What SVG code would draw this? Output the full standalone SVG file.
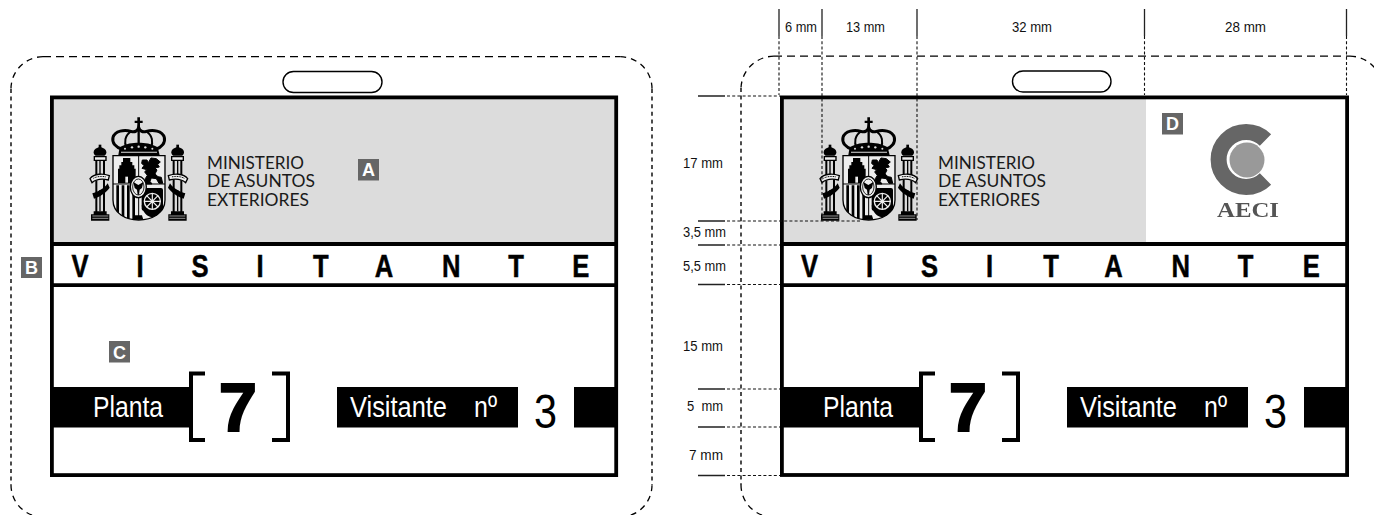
<svg xmlns="http://www.w3.org/2000/svg" xmlns:xlink="http://www.w3.org/1999/xlink" width="1374" height="515" viewBox="0 0 1374 515">
<style>
text{font-family:"Liberation Sans",Arial,sans-serif}
.bg{fill:#fff}
.frame{fill:none;stroke:#000;stroke-width:3.8}
.grey{fill:#dcdcdc}
.bar{fill:#000}
.slot{fill:#fff;stroke:#000;stroke-width:1.4}
.dh{fill:none;stroke:#000;stroke-width:1.3;stroke-dasharray:8 5}
.dv{fill:none;stroke:#000;stroke-width:1.4;stroke-dasharray:4 3.6}
.da{fill:none;stroke:#000;stroke-width:1.3;stroke-dasharray:6 5}
.min{font-family:Lato,"Open Sans",sans-serif;font-size:17.5px;fill:#1a1a1a}
.vis{font-weight:bold;font-size:32px;fill:#000;stroke:#000;stroke-width:.5;text-anchor:middle}
.wht{font-size:30px;fill:#fff}
.seven{font-weight:bold;font-size:68px;text-anchor:middle;fill:#000;stroke:#000;stroke-width:2.2}
.three{font-size:49px;fill:#000}
.brk{fill:none;stroke:#000;stroke-width:4}
.badge{fill:#666}
.bt{font-weight:bold;font-size:18px;fill:#fff;text-anchor:middle}
.dim{font-size:15px;fill:#111}
.tick{stroke:#222;stroke-width:1.3;fill:none}
.dot{stroke:#111;stroke-width:1.1;stroke-dasharray:3 2.2;fill:none}
.k{fill:#000}
.ks{fill:none;stroke:#000}
</style>
<defs>
<clipPath id="sh"><path d="M84 137H240V270C240 310 200 330 161 330C122 330 84 310 84 270Z"/></clipPath>
<g id="column">
<path class="k" d="M45 112c10 0 19 7 19 15c0 5-3 9-6 10H32c-3-1-6-5-6-10c0-8 9-15 19-15Z"/>
<rect class="k" x="41" y="104" width="8" height="10"/>
<path fill="#eee" stroke="#000" stroke-width="4" d="M28 140H63V151H28Z"/>
<path class="ks" stroke-width="6" d="M34 151V306M57 151V306"/>
<path class="ks" stroke-width="4" d="M45 152V196M45 240V304"/>
<path class="k" d="M26 304H65V313H73V332H18V313H26Z"/>
<path stroke="#dcdcdc" stroke-width="2" d="M22 318H70M22 325H70"/>
<path fill="#eee" stroke="#000" stroke-width="4" d="M15 206C28 190 54 190 73 197L70 210C50 205 32 209 21 218Z"/>
<path class="ks" stroke-width="3" stroke-dasharray="3 2" d="M25 205C36 199 50 198 64 201"/>
<path class="k" d="M22 250C36 247 58 236 68 220L74 233C62 249 44 261 27 266Z"/>
</g>
<g id="arms">
<path class="k" d="M157 22h8v10h8v7h-8v14h-8V39h-8v-7h8Z"/>
<g class="ks" stroke-width="9">
<path d="M112 118C92 112 80 98 84 82C90 62 118 58 138 64C150 68 158 62 161 52C164 62 172 68 184 64C204 58 232 62 238 82C242 98 230 112 212 118"/>
<path d="M138 64C120 76 116 96 125 114" stroke-width="6"/>
<path d="M184 64C202 76 206 96 197 114" stroke-width="6"/>
<path d="M161 52V110" stroke-width="7"/>
</g>
<path class="k" d="M104 112C124 100 142 98 161 98C180 98 198 100 218 112L224 135H100Z"/>
<g fill="#dcdcdc"><circle cx="120" cy="116" r="3"/><circle cx="141" cy="112" r="3.500"/><circle cx="161" cy="110" r="3.500"/><circle cx="181" cy="112" r="3.500"/><circle cx="202" cy="116" r="3"/><path d="M108 125H216V128H108Z"/></g>
<path fill="#eee" stroke="none" d="M84 137H240V270C240 310 200 330 161 330C122 330 84 310 84 270Z"/>
<g clip-path="url(#sh)">
<path class="k" d="M94 226h8V330h-8ZM110 226h8V330h-8ZM126 226h8V330h-8ZM142 226h8V330h-8Z"/>
</g>
<path class="ks" stroke-width="4" d="M84 137H240V270C240 310 200 330 161 330C122 330 84 310 84 270Z"/>
<path class="ks" stroke-width="3" d="M161 137V222M84 222H240M161 222V326"/>
<path class="k" d="M114 144h22v12h6v10h6v10h4v44H99V176h4V166h6v-10h5Z"/>
<path fill="#eee" d="M121 200h8v18h-8Z"/>
<path class="k" stroke="#000" stroke-width="3" d="M172 150h14l4 8 8-14 16 2 12 10-8 7 5 8-13 3 6 6-6 12 9 8 10 2 4 18h-11l-8-14-15-2-4 10 6 8h-18l-2-16 6-10-8-10 6-7-14-4 6-8-7-7Z"/>
<rect class="k" x="170" y="234" width="64" height="68" rx="6"/>
<path class="k" d="M170 286H234C232 306 216 320 200 322C186 320 172 306 170 286Z"/>
<circle fill="none" stroke="#eee" stroke-width="4" cx="202" cy="274" r="24"/>
<path stroke="#eee" stroke-width="3.500" d="M202 250V298M178 274H226M185 257L219 291M219 257L185 291"/>
<ellipse cx="160" cy="231" rx="24" ry="32" fill="#eee" stroke="#000" stroke-width="4"/>
<ellipse cx="160" cy="231" rx="17" ry="24" fill="none" stroke="#000" stroke-width="2.500"/>
<path class="k" d="M145 216l15 9 15-9-4 18-7 5-2 15h-4l-2-15-7-5Z"/>
<path class="k" d="M150 316h21l4 13h-29Z"/>
<use xlink:href="#column" href="#column"/>
<use xlink:href="#column" href="#column" transform="translate(323 0) scale(-1 1)"/>
</g>
<filter id="soft" x="-10%" y="-10%" width="120%" height="120%"><feGaussianBlur stdDeviation="0.7"/></filter>
</defs>
<rect class="bg" width="1374" height="515"/>

<g id="card-left">
<rect class="grey" x="53" y="99" width="562" height="144"/>
<path class="dh" d="M43 56.7H620"/>
<path class="da" d="M43 56.7A32 32 0 0 0 11 88.7M652 88.7A32 32 0 0 0 620 56.7M11 485A32 32 0 0 0 43 517M620 517A32 32 0 0 0 652 485"/>
<path class="dv" d="M11 89V485M652 89V485"/>
<rect class="slot" x="283" y="71.5" width="99" height="21" rx="10.5"/>
<rect class="frame" x="51.9" y="97.4" width="564.3" height="377.7"/>
<path class="frame" d="M52 244H616M52 285.2H616"/>
<use xlink:href="#arms" href="#arms" transform="translate(85 110) scale(.3333)"/>
<text class="min" x="207" y="168.7" textLength="97" lengthAdjust="spacingAndGlyphs">MINISTERIO</text>
<text class="min" x="207" y="187" textLength="108" lengthAdjust="spacingAndGlyphs">DE ASUNTOS</text>
<text class="min" x="207" y="206" textLength="102" lengthAdjust="spacingAndGlyphs">EXTERIORES</text>
<text class="vis" transform="scale(.8 1)" y="277" x="100 175 250 325 401 480 564 645 726">VISITANTE</text>
<rect class="bar" x="53" y="387" width="136" height="40.5"/>
<text class="wht" x="93" y="416.7" textLength="70" lengthAdjust="spacingAndGlyphs">Planta</text>
<path class="brk" d="M205 373.500H191V440H205M272 373.500H288V440H272"/>
<text class="seven" x="238" y="431">7</text>
<rect class="bar" x="337" y="387" width="181" height="40.5"/>
<text class="wht" x="350" y="417" textLength="97" lengthAdjust="spacingAndGlyphs">Visitante</text>
<text class="wht" x="474" y="417" textLength="23" lengthAdjust="spacingAndGlyphs">nº</text>
<text class="three" x="534" y="428" textLength="23" lengthAdjust="spacingAndGlyphs">3</text>
<rect class="bar" x="574" y="387" width="42" height="40.5"/>
</g>

<g id="card-right">
<rect class="grey" x="783" y="99" width="363" height="144"/>
<path class="dh" d="M774 56.2H1350"/>
<path class="da" d="M774 56.2A33 33 0 0 0 741 88M1382 88A32 32 0 0 0 1350 56.2M741 485A32 32 0 0 0 773 517"/>
<path class="dv" d="M741 88V485"/>
<rect class="slot" x="1012.5" y="71" width="98.5" height="21" rx="10.5"/>
<rect class="frame" x="781.9" y="97.4" width="565.2" height="377.6"/>
<path class="frame" d="M782 244H1347M782 285.2H1347"/>
<use xlink:href="#arms" href="#arms" transform="translate(815 110) scale(.3333)"/>
<text class="min" x="938" y="168.7" textLength="97" lengthAdjust="spacingAndGlyphs">MINISTERIO</text>
<text class="min" x="938" y="187" textLength="108" lengthAdjust="spacingAndGlyphs">DE ASUNTOS</text>
<text class="min" x="938" y="206" textLength="102" lengthAdjust="spacingAndGlyphs">EXTERIORES</text>
<text class="vis" transform="scale(.8 1)" y="277" x="1012 1087 1162 1237 1314 1392 1476 1557 1639">VISITANTE</text>
<rect class="bar" x="783" y="387" width="136" height="40.5"/>
<text class="wht" x="823" y="416.7" textLength="70" lengthAdjust="spacingAndGlyphs">Planta</text>
<path class="brk" d="M935 373.500H921V440H935M1002 373.500H1018V440H1002"/>
<text class="seven" x="968" y="431">7</text>
<rect class="bar" x="1067" y="387" width="181" height="40.5"/>
<text class="wht" x="1080" y="417" textLength="97" lengthAdjust="spacingAndGlyphs">Visitante</text>
<text class="wht" x="1204" y="417" textLength="23" lengthAdjust="spacingAndGlyphs">nº</text>
<text class="three" x="1264" y="428" textLength="23" lengthAdjust="spacingAndGlyphs">3</text>
<rect class="bar" x="1304" y="387" width="43" height="40.5"/>
</g>

<g id="logo-aeci" filter="url(#soft)">
<path fill="none" stroke="#666" stroke-width="16" d="M1265.500 140A27.500 27.500 0 1 0 1265.500 179"/>
<circle cx="1247" cy="160" r="17.500" fill="#999"/>
<text x="1217" y="217" font-size="22" font-weight="bold" fill="#555" textLength="62" lengthAdjust="spacingAndGlyphs" style="font-family:'Liberation Serif',serif">AECI</text>
</g>

<g id="badge-a"><rect class="badge" x="358" y="159" width="21" height="21.500"/><text class="bt" x="368.500" y="176">A</text></g>
<g id="badge-b"><rect class="badge" x="21" y="257" width="21" height="21"/><text class="bt" x="31.500" y="274">B</text></g>
<g id="badge-c"><rect class="badge" x="109" y="341" width="21" height="21.500"/><text class="bt" x="119.500" y="358.500">C</text></g>
<g id="badge-d"><rect class="badge" x="1162" y="113" width="21" height="21.500"/><text class="bt" x="1172.500" y="130">D</text></g>

<g id="connectors">
<path class="tick" d="M779 9V36M822 9V36M917 9V36M1144.500 9V36M1346.500 9V36"/>
<path class="dot" d="M779 36V95M822 36V220M917 36V220M1144.500 36V95M1346.500 36V95"/>
<path class="tick" d="M698 96H725M698 221H725M698 245H725M698 284.500H725M698 389H725M698 427H725M698 475.500H725"/>
<path class="dot" d="M727 96H780M727 221H860M727 245H780M727 284.500H780M727 389H780M727 427H780M727 475.500H780"/>
</g>
<g id="dimension-labels">
<text class="dim" x="785" y="32" textLength="32" lengthAdjust="spacingAndGlyphs">6 mm</text>
<text class="dim" x="846" y="32" textLength="39" lengthAdjust="spacingAndGlyphs">13 mm</text>
<text class="dim" x="1012" y="32" textLength="40" lengthAdjust="spacingAndGlyphs">32 mm</text>
<text class="dim" x="1225" y="32" textLength="41" lengthAdjust="spacingAndGlyphs">28 mm</text>
<text class="dim" x="683" y="168" textLength="40" lengthAdjust="spacingAndGlyphs">17 mm</text>
<text class="dim" x="683" y="236.500" textLength="43" lengthAdjust="spacingAndGlyphs">3,5 mm</text>
<text class="dim" x="683" y="270.500" textLength="43" lengthAdjust="spacingAndGlyphs">5,5 mm</text>
<text class="dim" x="683" y="350.500" textLength="40" lengthAdjust="spacingAndGlyphs">15 mm</text>
<text class="dim" x="687" y="411" textLength="36" lengthAdjust="spacingAndGlyphs" xml:space="preserve">5  mm</text>
<text class="dim" x="689" y="460" textLength="34" lengthAdjust="spacingAndGlyphs">7 mm</text>
</g>
</svg>
